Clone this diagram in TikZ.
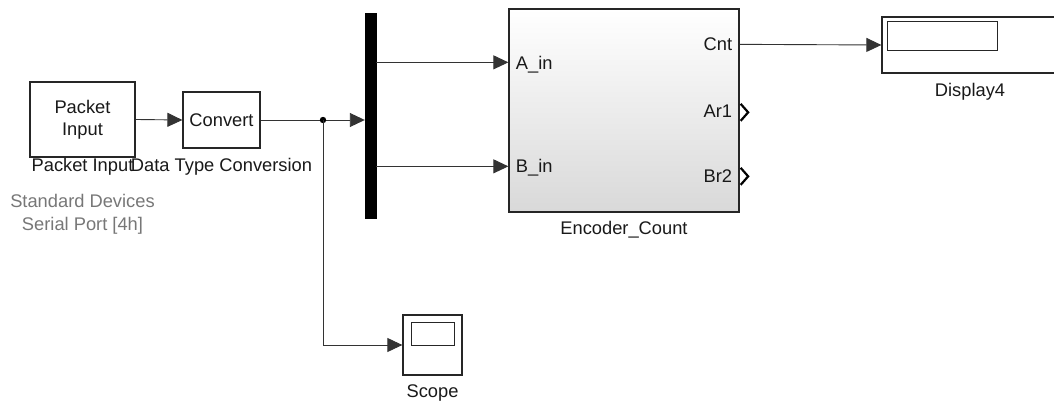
\documentclass[tikz,border=0pt]{standalone}
\usepackage{fontspec}
\setmainfont{Liberation Sans}
\usetikzlibrary{positioning,arrows.meta,calc}
\definecolor{edgegray}{HTML}{262626}
\definecolor{subgray}{HTML}{777777}

\tikzset{
  blk/.style={draw=edgegray,line width=1.3pt,fill=white,inner sep=0pt},
  sig/.style={draw=black!80,line width=0.9pt,-{Triangle[length=15pt,width=14pt]}},
  outport/.style={line width=2.2pt,line join=miter},
}

\begin{document}
\begin{tikzpicture}[x=1pt,y=-1pt,every node/.style={font=\fontsize{18.3}{22}\selectfont,text=black!90}]
  \useasboundingbox (0,0) rectangle (1054,403);
  \clip (0,0) rectangle (1054,403);

  % source blocks
  \node[blk,minimum width=105pt,minimum height=75pt,align=center] (pkt) at (82.5,119.5) {Packet\\Input};
  \node[anchor=base] (pktname) at (82.5,172) {Packet Input};
  \node[anchor=base,text=subgray] (pktsub1) at (82.5,208) {Standard Devices};
  \node[anchor=base,text=subgray] (pktsub2) at (82.5,231) {Serial Port [4h]};

  \node[blk,minimum width=77pt,minimum height=56pt] (cvt) at (221.5,120) {Convert};
  \node[anchor=base] (cvtname) at (221.5,172) {Data Type Conversion};

  % mux bar
  \node[fill=black,draw=black,inner sep=0pt,minimum width=11pt,minimum height=205pt] (mux) at (370.5,115.5) {};

  % subsystem
  \node[blk,top color=white,middle color=black!4,bottom color=black!15,minimum width=230pt,minimum height=203pt] (enc) at (624,110.5) {};
  \node[anchor=base] (encname) at (624,235) {Encoder\_Count};
  \coordinate (ain) at ($(enc.north west)+(0,54)$);
  \coordinate (bin) at ($(enc.north west)+(0,158)$);
  \coordinate (cnt) at ($(enc.north east)+(0,36)$);
  \coordinate (ar1) at ($(enc.north east)+(1,104)$);
  \coordinate (br2) at ($(enc.north east)+(1,168)$);
  \node[anchor=base west] (ainlbl) at ($(ain)+(4,7)$) {A\_in};
  \node[anchor=base west] (binlbl) at ($(bin)+(4,6)$) {B\_in};
  \node[anchor=base east] (cntlbl) at ($(cnt)+(-4,6)$) {Cnt};
  \node[anchor=base east] (ar1lbl) at ($(ar1)+(-5,5)$) {Ar1};
  \node[anchor=base east] (br2lbl) at ($(br2)+(-5,6)$) {Br2};
  \draw[outport] ($(ar1)+(0,-8.5)$) -- ++(7.5,8.5) -- ++(-7.5,8.5);
  \draw[outport] ($(br2)+(0,-8.5)$) -- ++(7.5,8.5) -- ++(-7.5,8.5);

  % sinks
  \node[blk,minimum width=188pt,minimum height=56pt] (disp) at (976,45) {};
  \draw[line width=1.1pt,draw=edgegray] ($(disp.north west)+(6,5)$) rectangle ++(110,29);
  \node[anchor=base] (dispname) at (970,97) {Display4};

  \node[blk,minimum width=59pt,minimum height=60pt] (scope) at (432.5,345) {};
  \draw[line width=1.1pt,draw=edgegray] ($(scope.north west)+(9,8)$) rectangle ++(43,23);
  \node[anchor=base] (scopename) at (432.5,397) {Scope};

  % signals
  \coordinate (br) at (323,120);
  \draw[sig] (pkt.east) -- (cvt.west);
  \draw[sig] (cvt.east) -- (cvt.east -| mux.west);
  \fill[black] (br) circle (3.2pt);
  \draw[sig] (br) |- (scope.west);
  \draw[sig] (mux.east |- ain) -- (ain);
  \draw[sig] (mux.east |- bin) -- (bin);
  \draw[sig] (cnt) -- (disp.west);
\end{tikzpicture}
\end{document}
